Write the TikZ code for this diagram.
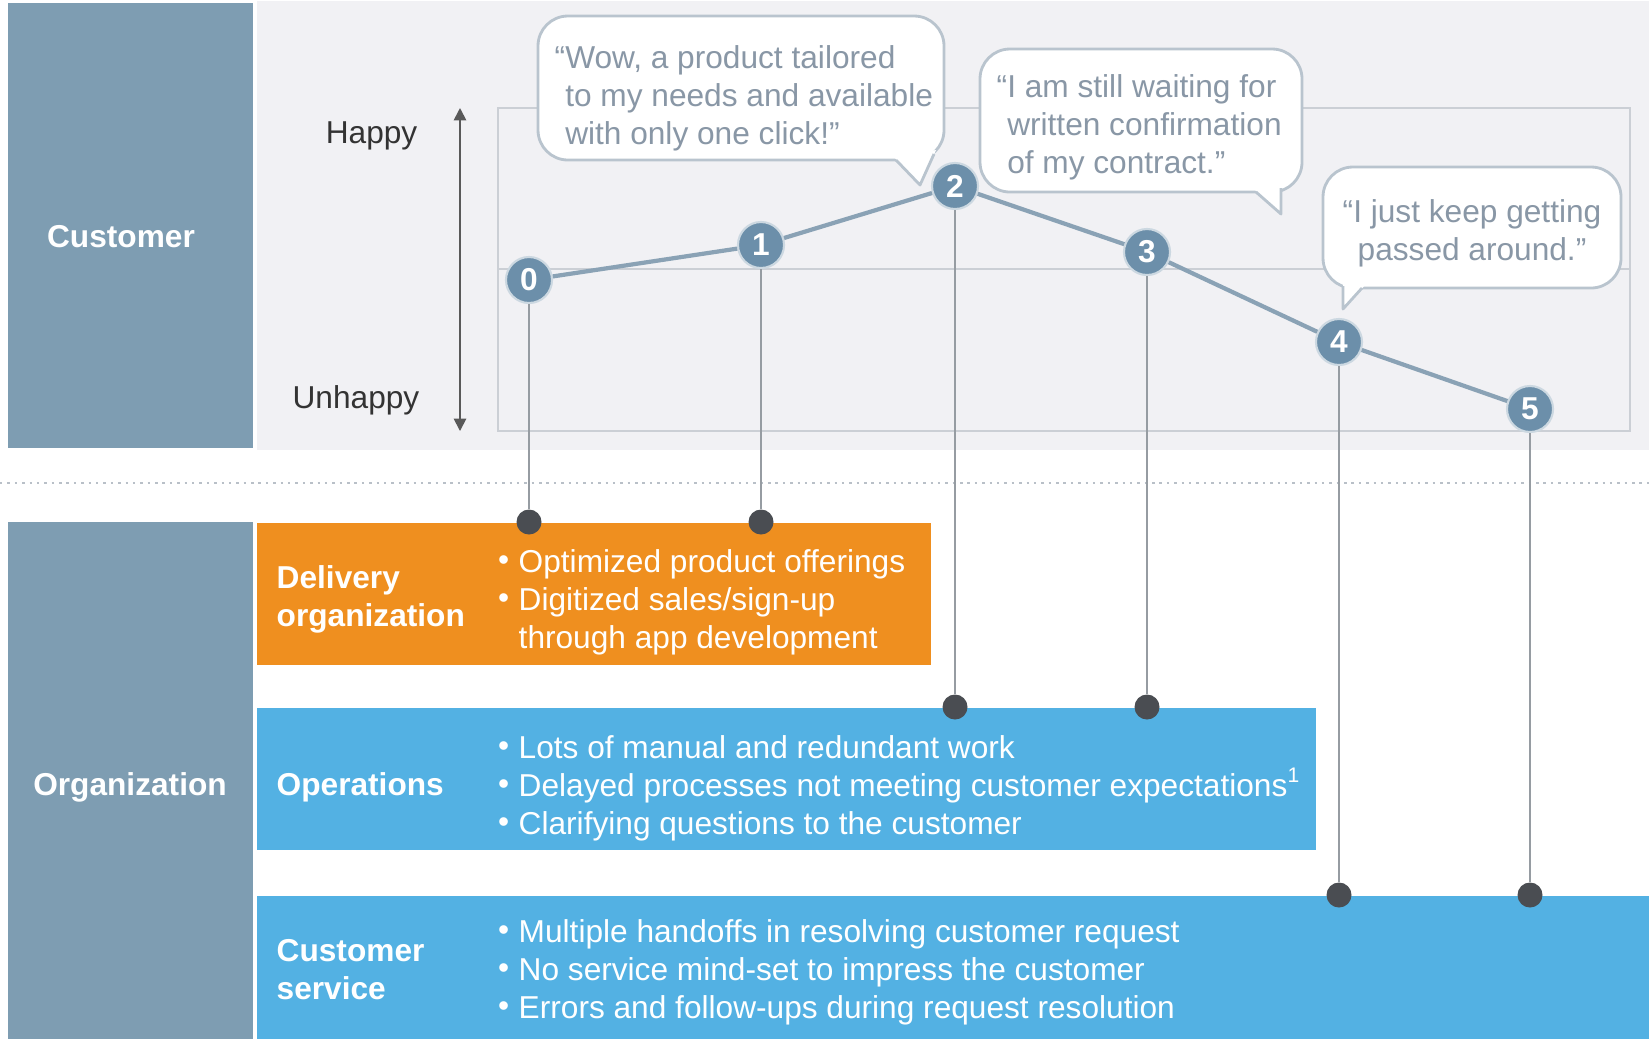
\documentclass[tikz,border=0pt]{standalone}
\usepackage{fontspec}
\setmainfont{Liberation Sans}
\usetikzlibrary{positioning, arrows.meta, calc}

% hanging bullet for the item lists
\newcommand{\blt}{\llap{\raisebox{0.12ex}{\textbullet}\hspace{2.7pt}}}

\begin{document}
\begin{tikzpicture}[
    x=0.01cm, y=-0.01cm,
    band/.style={fill=bandC, inner sep=0, anchor=north west, minimum width=2.45cm},
    lane/.style={inner sep=0, anchor=north west, minimum height=1.42cm},
    head/.style={text=white, font=\bfseries\fontsize{9}{10.8}\selectfont, align=left, inner sep=0},
    items/.style={text=white, font=\fontsize{9}{10.8}\selectfont, align=left, anchor=west, inner sep=0},
    mood/.style={text=black!80, font=\fontsize{9}{10.8}\selectfont, anchor=east, inner sep=0},
    quote/.style={text=quoteC, font=\fontsize{9}{10.8}\selectfont, align=left, inner sep=0},
    bubble/.style={draw=bubbleC, fill=white, line width=0.8pt, rounded corners=8.5pt},
    tail/.style={draw=bubbleC, line width=0.8pt, line join=round},
    pt/.style={circle, fill=ptC, draw=ptC!35!white, line width=0.6pt, minimum size=0.46cm,
               inner sep=0, text=white, font=\bfseries\fontsize{9}{10}\selectfont},
    dot/.style={circle, fill=dotC, minimum size=0.25cm, inner sep=0},
    drop/.style={draw=dropC, line width=0.5pt},
    frame/.style={draw=frameC, line width=0.6pt},
]

% Colour definitions
\definecolor{bandC}{RGB}{126,157,178}
\definecolor{bgC}{RGB}{241,241,244}
\definecolor{frameC}{RGB}{203,207,213}
\definecolor{ptC}{RGB}{108,143,170}
\definecolor{lineC}{RGB}{138,162,181}
\definecolor{dropC}{RGB}{150,156,162}
\definecolor{dotC}{RGB}{74,77,82}
\definecolor{quoteC}{RGB}{137,151,166}
\definecolor{bubbleC}{RGB}{185,196,206}
\definecolor{orangeC}{RGB}{239,143,31}
\definecolor{blueC}{RGB}{83,177,227}
\definecolor{sepC}{RGB}{185,192,200}

\useasboundingbox (0,0) rectangle (1649,1038);

% Customer area
\node[fill=bgC, inner sep=0, anchor=north west, minimum width=13.93cm, minimum height=4.49cm] (bg) at (256,0) {};
\node[band, minimum height=4.45cm] (cband) at (7,2) {};
\node[head] (cust) at (121,237) {Customer};

\draw[frame] (498,108) rectangle (1630,431);
\draw[frame] (498,269) -- (1630,269);

\coordinate (atop) at (460,108);
\coordinate (abot) at (460,431);
\draw[{Triangle[length=3.5pt,width=3.5pt]}-{Triangle[length=3.5pt,width=3.5pt]}, black!65, line width=0.5pt] (atop) -- (abot);
\node[mood] (happy) at (418,136) {Happy};
\node[mood] (unhappy) at (420,400) {Unhappy};

% Separator
\coordinate (sepL) at (0,483);
\coordinate (sepR) at (1649,483);
\draw[sepC, line width=0.8pt, dash pattern=on 0.7pt off 1.4pt] (sepL) -- (sepR);

% Organization lanes
\node[band, minimum height=5.17cm] (oband) at (7,521) {};
\node[head] (org) at (130,787) {Organization};

\node[lane, fill=orangeC, minimum width=6.74cm] (deliv) at (256,522) {};
\node[lane, fill=blueC, minimum width=10.59cm] (ops) at (256,707) {};
\node[lane, fill=blueC, minimum width=13.93cm, minimum height=1.43cm] (serv) at (256,895) {};

\node[head, anchor=west] at (276,599) {Delivery\\organization};
\node[head, anchor=west] at (276,787) {Operations};
\node[head, anchor=west] at (276,970) {Customer\\service};

\node[items] at (518,602)
  {\blt Optimized product offerings\\\blt Digitized sales/sign-up\\through app development};
\node[items] at (518,788)
  {\blt Lots of manual and redundant work\\\blt Delayed processes not meeting customer expectations\textsuperscript{1}\\\blt Clarifying questions to the customer};
\node[items] at (518,972)
  {\blt Multiple handoffs in resolving customer request\\\blt No service mind-set to impress the customer\\\blt Errors and follow-ups during request resolution};

% Speech bubbles
\draw[bubble] (538,16) rectangle (944,160);
\fill[white] (894,157) -- (920,185) -- (936,150) -- cycle;
\draw[tail] (896,160) -- (920,185) -- (934,154);
\node[quote, anchor=west] (q1) at (554,98)
  {“Wow, a product tailored\\\phantom{“}to my needs and available\\\phantom{“}with only one click!”};

\draw[bubble] (980,49) rectangle (1302,192);
\fill[white] (1253,188) -- (1281,214) -- (1281,185) -- cycle;
\draw[tail] (1256,192) -- (1281,214) -- (1281,188);
\node[quote, anchor=west] (q2) at (996,127)
  {“I am still waiting for\\\phantom{“}written confirmation\\\phantom{“}of my contract.”};

\draw[bubble] (1323,167) rectangle (1621,288);
\fill[white] (1343,283) -- (1343,309) -- (1366,284) -- cycle;
\draw[tail] (1343,286) -- (1343,309) -- (1362,288);
\node[quote, align=center] (q3) at (1472,233)
  {“I just keep getting\\passed around.”};

% Journey points
\foreach \i/\x/\y in {0/529/280, 1/761/245, 2/955/186, 3/1147/252, 4/1339/342, 5/1530/409} {
  \node[pt] (p\i) at (\x,\y) {\i};
}
\foreach \i/\l in {0/deliv, 1/deliv, 2/ops, 3/ops, 4/serv, 5/serv} {
  \node[dot] (d\i) at (p\i |- \l.north) {};
  \draw[drop] (p\i) -- (d\i);
}
\foreach \a/\b in {0/1, 1/2, 2/3, 3/4, 4/5} {
  \draw[lineC, line width=1.2pt] (p\a) -- (p\b);
}

\end{tikzpicture}
\end{document}
